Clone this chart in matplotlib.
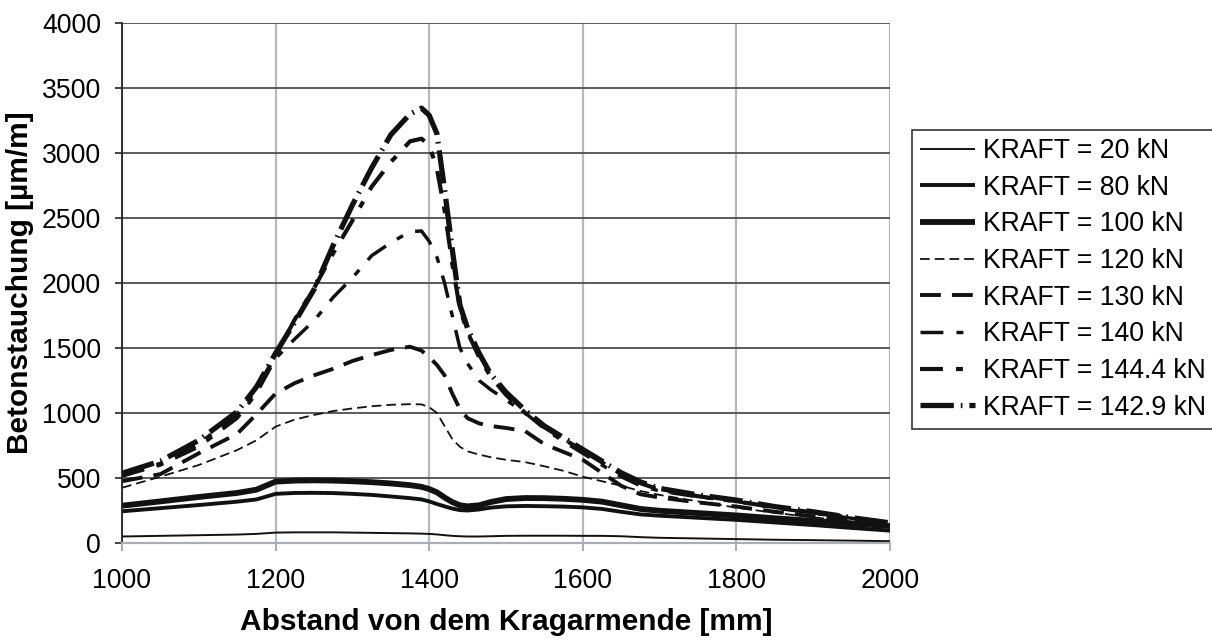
import matplotlib
matplotlib.use("Agg")
import matplotlib.pyplot as plt

plt.rcParams['font.family'] = ['Liberation Sans', 'DejaVu Sans']
plt.rcParams['lines.scale_dashes'] = False

# Position along the cantilever [mm]
abstand = [1000, 1050, 1100, 1150, 1175, 1200, 1225, 1250, 1275, 1300, 1325, 1350,
           1375, 1390, 1400, 1410, 1420, 1430, 1440, 1450, 1465, 1480, 1500, 1525,
           1550, 1575, 1600, 1625, 1650, 1675, 1700, 1750, 1800, 1850, 1900, 1950, 2000]

# Concrete compressive strain [µm/m] per load step
kraft_20 = [50, 55, 60, 65, 70, 80, 82, 82, 82, 80, 78, 76,
            74, 72, 70, 66, 60, 55, 52, 50, 50, 52, 55, 56,
            56, 56, 55, 55, 52, 45, 40, 35, 30, 25, 22, 18, 14]
kraft_80 = [244, 268, 292, 318, 335, 378, 385, 386, 384, 378, 370, 358,
            345, 335, 320, 300, 282, 265, 253, 250, 258, 272, 282, 285,
            283, 280, 274, 262, 240, 220, 210, 194, 178, 158, 138, 116, 95]
kraft_100 = [287, 320, 354, 385, 410, 472, 480, 482, 480, 475, 468, 458,
             445, 432, 415, 390, 350, 315, 290, 282, 290, 315, 338, 346,
             345, 340, 332, 318, 290, 262, 248, 230, 212, 190, 170, 150, 130]
kraft_120 = [425, 510, 600, 715, 790, 895, 950, 985, 1015, 1035, 1052, 1063,
             1068, 1066, 1045, 1000, 900, 800, 740, 705, 680, 660, 640, 622,
             590, 555, 510, 475, 440, 400, 370, 320, 272, 232, 198, 165, 135]
kraft_130 = [475, 530, 690, 840, 990, 1150, 1230, 1290, 1340, 1400, 1445, 1485,
             1510, 1480, 1430, 1370, 1290, 1150, 1030, 960, 920, 900, 885, 860,
             760, 700, 640, 540, 440, 375, 350, 312, 280, 240, 205, 170, 140]
kraft_140 = [515, 600, 740, 960, 1150, 1420, 1570, 1710, 1890, 2040, 2210, 2310,
             2395, 2400, 2320, 2200, 2000, 1750, 1500, 1380, 1250, 1180, 1100, 1000,
             880, 780, 690, 600, 510, 440, 400, 355, 320, 270, 230, 190, 150]
kraft_144_4 = [520, 610, 760, 990, 1180, 1440, 1720, 1960, 2230, 2480, 2740, 2930,
               3090, 3110, 3060, 2880, 2560, 2150, 1800, 1620, 1430, 1280, 1140, 1000,
               890, 800, 710, 620, 530, 460, 410, 360, 320, 275, 235, 195, 150]
kraft_142_9 = [536, 630, 790, 1010, 1200, 1460, 1700, 1950, 2290, 2600, 2885, 3140,
               3300, 3345, 3290, 3150, 2720, 2260, 1830, 1650, 1460, 1300, 1160, 1020,
               900, 810, 720, 630, 540, 470, 420, 370, 330, 280, 240, 195, 155]

labels = ["KRAFT = 20 kN", "KRAFT = 80 kN", "KRAFT = 100 kN", "KRAFT = 120 kN",
          "KRAFT = 130 kN", "KRAFT = 140 kN", "KRAFT = 144.4 kN", "KRAFT = 142.9 kN"]
series = [kraft_20, kraft_80, kraft_100, kraft_120, kraft_130, kraft_140,
          kraft_144_4, kraft_142_9]

styles = [
    dict(lw=1.4, ls='-'),
    dict(lw=2.8, ls='-'),
    dict(lw=4.2, ls='-'),
    dict(lw=1.3, ls=(0, (7, 3.6))),
    dict(lw=2.8, ls=(0, (15, 8))),
    dict(lw=2.5, ls=(0, (16.5, 9.4, 5, 9.5))),
    dict(lw=3.0, ls=(0, (16.5, 9.4, 5, 9.5))),
    dict(lw=3.8, ls=(0, (24, 5, 1.2, 5))),
]

W, H = 1212, 641
fig = plt.figure(figsize=(W / 100, H / 100), dpi=100)
ax = fig.add_axes([122 / W, 1 - 543 / H, 768 / W, 520 / H])

for vals, lab, st in zip(series, labels, styles):
    ax.plot(abstand, vals, color='#111111', label=lab,
            solid_capstyle='butt', dash_capstyle='butt', **st)

ax.set_xlim(1000, 2000)
ax.set_ylim(0, 4000)
ax.set_xticks(range(1000, 2001, 200))
ax.set_yticks(range(0, 4001, 500))

ax.yaxis.grid(True, color='#4e4e4e', lw=1.3)
ax.xaxis.grid(True, color='#b4bac0', lw=1.6)
ax.set_axisbelow(True)

for side in ('top', 'right'):
    ax.spines[side].set_visible(False)
ax.spines['left'].set_color('#222222')
ax.spines['left'].set_linewidth(1.3)
ax.spines['bottom'].set_color('#a8aeb4')
ax.spines['bottom'].set_linewidth(1.6)

ax.tick_params(axis='x', direction='out', length=6, width=1.4, color='#a8aeb4',
               labelsize=19.2, pad=12)
ax.tick_params(axis='y', direction='out', length=5, width=1.2, color='#222222',
               labelsize=19.2, pad=10)

ax.set_xlabel("Abstand von dem Kragarmende [mm]", fontsize=21.5,
              fontweight='bold', labelpad=10)
ax.set_ylabel("Betonstauchung [µm/m]", fontsize=21.5, fontweight='bold',
              labelpad=6)

leg = ax.legend(loc='upper left', bbox_to_anchor=(912 / W, 1 - 130 / H),
                bbox_transform=fig.transFigure, borderaxespad=0,
                fontsize=19.2, frameon=True, fancybox=False, framealpha=1,
                edgecolor='#333333', handlelength=2.05, handletextpad=0.3,
                labelspacing=0.4, borderpad=0.3)
leg.get_frame().set_linewidth(1.2)

fig.savefig("out.png", dpi=100)
